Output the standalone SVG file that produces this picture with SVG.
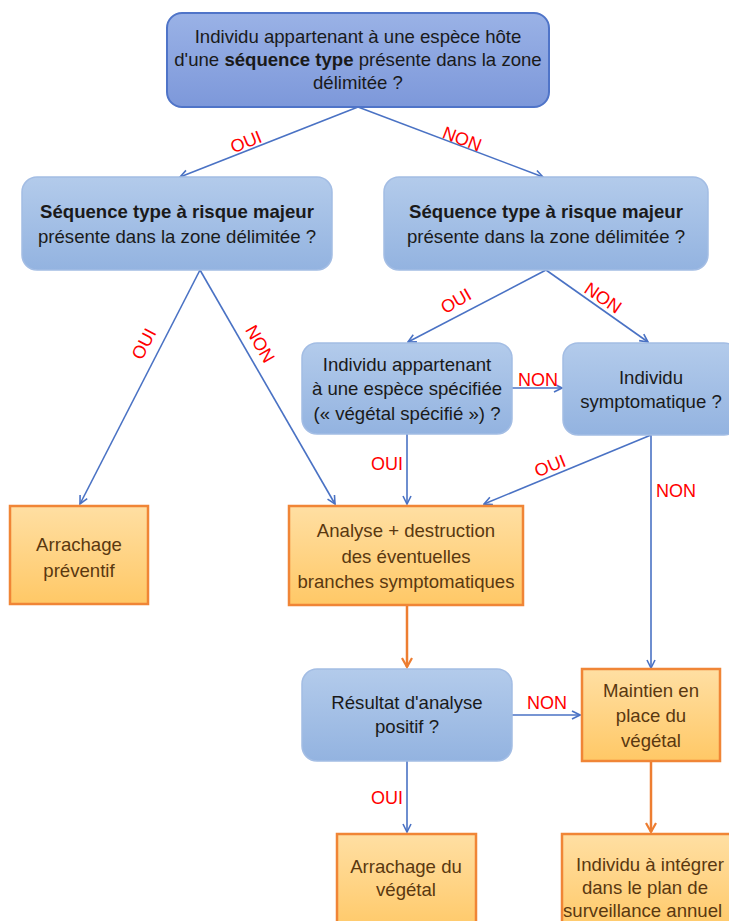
<svg xmlns="http://www.w3.org/2000/svg" width="729" height="921" viewBox="0 0 729 921">
<defs>
<linearGradient id="gBlue" x1="0" y1="0" x2="0" y2="1">
<stop offset="0" stop-color="#b3cbeb"/>
<stop offset="1" stop-color="#93b3e0"/>
</linearGradient>
<linearGradient id="gTop" x1="0" y1="0" x2="0" y2="1">
<stop offset="0" stop-color="#9ab2e6"/>
<stop offset="1" stop-color="#7d98da"/>
</linearGradient>
<linearGradient id="gOr" x1="0" y1="0" x2="0" y2="1">
<stop offset="0" stop-color="#ffdfa3"/>
<stop offset="1" stop-color="#ffc866"/>
</linearGradient>
<marker id="ab" markerWidth="10" markerHeight="10" refX="9" refY="5" orient="auto" markerUnits="userSpaceOnUse">
<path d="M1,1 L9,5 L1,9" fill="none" stroke="#4a72c4" stroke-width="1.6"/>
</marker>
<marker id="ao" markerWidth="12" markerHeight="12" refX="10" refY="6" orient="auto" markerUnits="userSpaceOnUse">
<path d="M1,1 L10,6 L1,11" fill="none" stroke="#ed7d31" stroke-width="2.2"/>
</marker>
</defs>
<style>
.bb{fill:url(#gBlue);stroke:#a3bde4;stroke-width:1.5}
.bt{fill:url(#gTop);stroke:#4f74c8;stroke-width:2}
.ob{fill:url(#gOr);stroke:#f08536;stroke-width:2.5}
.t{font-family:"Liberation Sans",Arial,sans-serif;font-size:18.6px;text-anchor:middle;fill:#1a1a1a}
.to{font-family:"Liberation Sans",Arial,sans-serif;font-size:18.6px;text-anchor:middle;fill:#5a3810}
.b{font-weight:bold}
.lb{font-family:"Liberation Sans",Arial,sans-serif;font-size:18px;text-anchor:middle;fill:#ff0000}
.cb{stroke:#4a72c4;stroke-width:1.6;fill:none;marker-end:url(#ab)}
.co{stroke:#ed7d31;stroke-width:2.5;fill:none;marker-end:url(#ao)}
</style>
<rect width="729" height="921" fill="#ffffff"/>

<g id="connectors">
<line class="cb" x1="358" y1="107" x2="180" y2="177"/>
<line class="cb" x1="358" y1="107" x2="543" y2="177"/>
<line class="cb" x1="200" y1="270" x2="80" y2="504"/>
<line class="cb" x1="200" y1="270" x2="335" y2="504"/>
<line class="cb" x1="546" y1="270" x2="408" y2="342"/>
<line class="cb" x1="546" y1="270" x2="648" y2="342"/>
<line class="cb" x1="512" y1="388" x2="562" y2="388"/>
<line class="cb" x1="407" y1="434" x2="407" y2="504"/>
<line class="cb" x1="651" y1="435" x2="484" y2="504"/>
<line class="cb" x1="651" y1="435" x2="651" y2="668"/>
<line class="co" x1="407" y1="605" x2="407" y2="667"/>
<line class="cb" x1="512" y1="715" x2="580" y2="715"/>
<line class="cb" x1="407" y1="761" x2="407" y2="832"/>
<line class="co" x1="651" y1="762" x2="651" y2="832"/>
<text class="lb" transform="translate(246,142) rotate(-22)" dy="6">OUI</text>
<text class="lb" transform="translate(462,139) rotate(21)" dy="6">NON</text>
<text class="lb" transform="translate(144,344) rotate(-62)" dy="6">OUI</text>
<text class="lb" transform="translate(260,344) rotate(60)" dy="6">NON</text>
<text class="lb" transform="translate(456,301) rotate(-30)" dy="6">OUI</text>
<text class="lb" transform="translate(603,298) rotate(34)" dy="6">NON</text>
<text class="lb" x="538" y="386">NON</text>
<text class="lb" x="387" y="470">OUI</text>
<text class="lb" transform="translate(550,466) rotate(-22)" dy="6">OUI</text>
<text class="lb" x="676" y="497">NON</text>
<text class="lb" x="547" y="709">NON</text>
<text class="lb" x="387" y="804">OUI</text>
</g>

<g id="n_top">
<rect class="bt" x="167" y="13" width="382" height="94" rx="15"/>
<text class="t" x="358" y="43">Individu appartenant à une espèce hôte</text>
<text class="t" x="358" y="66">d'une <tspan class="b">séquence type</tspan> présente dans la zone</text>
<text class="t" x="358" y="89">délimitée ?</text>
</g>

<g id="n_left">
<rect class="bb" x="22" y="177" width="310" height="93" rx="15"/>
<text class="t b" x="177" y="218">Séquence type à risque majeur</text>
<text class="t" x="177" y="243">présente dans la zone délimitée ?</text>
</g>

<g id="n_right">
<rect class="bb" x="384" y="177" width="324" height="93" rx="15"/>
<text class="t b" x="546" y="218">Séquence type à risque majeur</text>
<text class="t" x="546" y="243">présente dans la zone délimitée ?</text>
</g>

<g id="n_specifie">
<rect class="bb" x="302" y="343" width="210" height="91" rx="15"/>
<text class="t" x="407" y="371">Individu appartenant</text>
<text class="t" x="407" y="395">à une espèce spécifiée</text>
<text class="t" x="407" y="420">(« végétal spécifié ») ?</text>
</g>

<g id="n_sympto">
<rect class="bb" x="563" y="343" width="176" height="92" rx="15"/>
<text class="t" x="651" y="384">Individu</text>
<text class="t" x="651" y="408">symptomatique ?</text>
</g>

<g id="n_arrachage_prev">
<rect class="ob" x="10" y="506" width="138" height="98"/>
<text class="to" x="79" y="551">Arrachage</text>
<text class="to" x="79" y="577">préventif</text>
</g>

<g id="n_analyse">
<rect class="ob" x="289" y="506" width="234" height="99"/>
<text class="to" x="406" y="537">Analyse + destruction</text>
<text class="to" x="406" y="563">des éventuelles</text>
<text class="to" x="406" y="588">branches symptomatiques</text>
</g>

<g id="n_resultat">
<rect class="bb" x="302" y="669" width="210" height="92" rx="15"/>
<text class="t" x="407" y="709">Résultat d'analyse</text>
<text class="t" x="407" y="733">positif ?</text>
</g>

<g id="n_maintien">
<rect class="ob" x="582" y="669" width="138" height="92"/>
<text class="to" x="651" y="697">Maintien en</text>
<text class="to" x="651" y="722">place du</text>
<text class="to" x="651" y="747">végétal</text>
</g>

<g id="n_arrachage_veg">
<rect class="ob" x="337" y="834" width="139" height="100"/>
<text class="to" x="406" y="873">Arrachage du</text>
<text class="to" x="406" y="896">végétal</text>
</g>

<g id="n_integrer">
<rect class="ob" x="562" y="834" width="180" height="100"/>
<text class="to" x="650" y="871">Individu à intégrer</text>
<text class="to" x="645" y="894">dans le plan de</text>
<text class="to" x="563" y="917" style="text-anchor:start">surveillance annuel</text>
</g>
</svg>
